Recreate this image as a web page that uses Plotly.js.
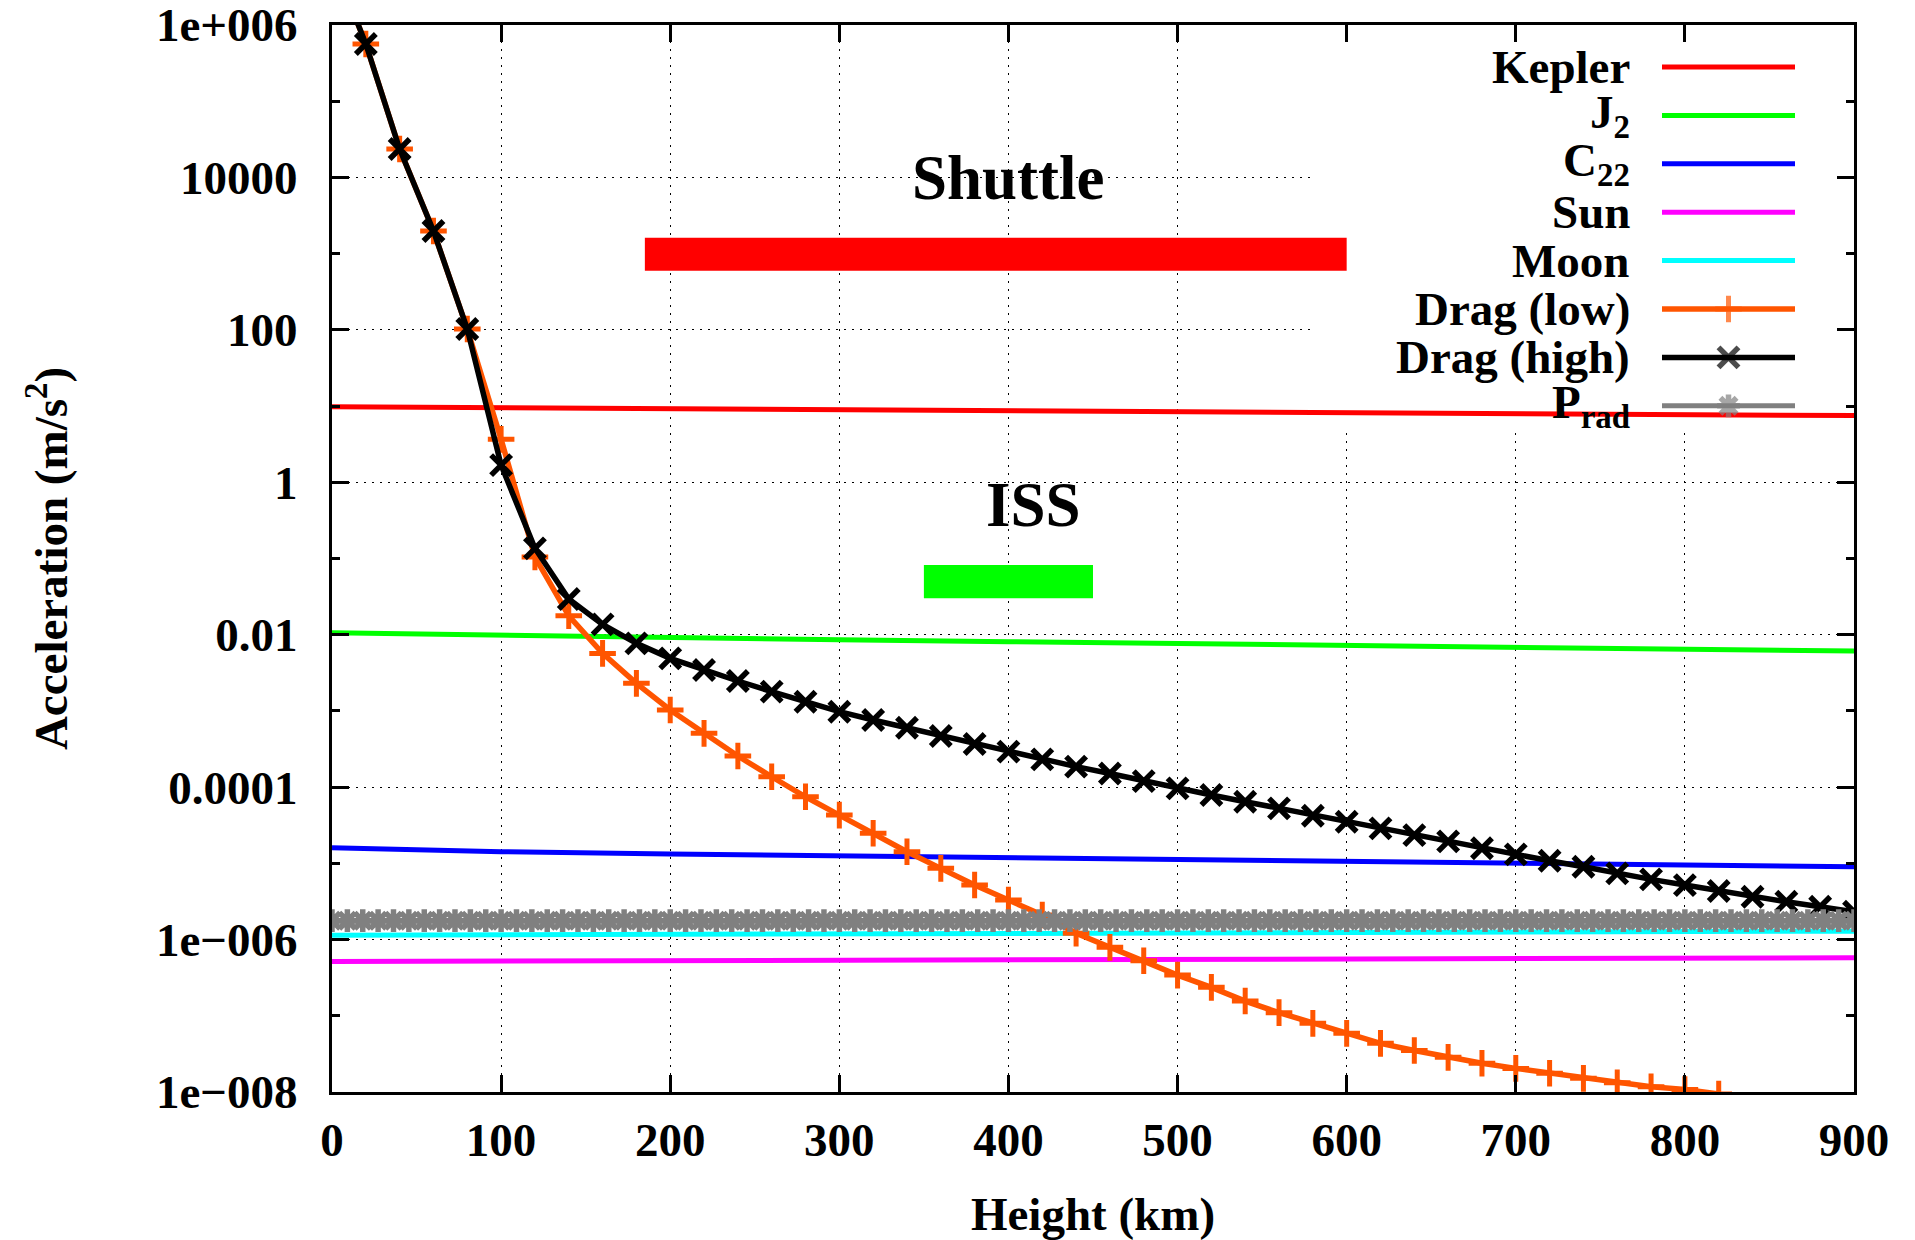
<!DOCTYPE html>
<html>
<head>
<meta charset="utf-8">
<script src="https://cdn.plot.ly/plotly-3.0.1.min.js"></script>
<style>
html,body{margin:0;padding:0;background:#ffffff;}
#chart{width:1915px;height:1240px;}
</style>
</head>
<body>
<div id="chart"></div>
<script>
// ---------------- DATA ----------------
const funcHeights = [0, 100, 200, 300, 400, 500, 600, 700, 800, 900];
const kepler = [9.8, 9.5, 9.2, 8.9, 8.7, 8.4, 8.2, 8.0, 7.7, 7.5];
const j2     = [0.0106, 0.0098, 0.0092, 0.0086, 0.0081, 0.0076, 0.0072, 0.0068, 0.0064, 0.0061];
const c22    = [1.60e-5, 1.42e-5, 1.33e-5, 1.25e-5, 1.18e-5, 1.12e-5, 1.06e-5, 1.01e-5, 0.95e-5, 0.90e-5];
const sun    = [5.15e-7, 5.22e-7, 5.29e-7, 5.36e-7, 5.43e-7, 5.50e-7, 5.57e-7, 5.64e-7, 5.71e-7, 5.78e-7];
const moon   = [1.14e-6, 1.16e-6, 1.18e-6, 1.19e-6, 1.21e-6, 1.23e-6, 1.24e-6, 1.26e-6, 1.27e-6, 1.29e-6];

const dragLowHeights = [0, 20, 40, 60, 80, 100, 120, 140, 160, 180, 200, 220, 240, 260, 280, 300, 320, 340, 360, 380,
  400, 420, 440, 460, 480, 500, 520, 540, 560, 580, 600, 620, 640, 660, 680, 700, 720, 740, 760, 780, 800, 820];
const dragLow = [7.5e6, 5.64e5, 2.36e4, 1.98e3, 102.6, 3.66, 0.105, 0.0177, 0.00569, 0.0023, 0.00103, 5.08e-4, 2.56e-4,
  1.37e-4, 7.48e-5, 4.30e-5, 2.48e-5, 1.42e-5, 8.6e-6, 5.19e-6, 3.30e-6, 2.10e-6, 1.21e-6, 7.9e-7, 5.27e-7, 3.42e-7,
  2.36e-7, 1.56e-7, 1.10e-7, 7.96e-8, 5.88e-8, 4.35e-8, 3.5e-8, 2.85e-8, 2.38e-8, 2.04e-8, 1.76e-8, 1.51e-8, 1.32e-8,
  1.17e-8, 1.08e-8, 9.4e-9];

const dragHighHeights = [0, 20, 40, 60, 80, 100, 120, 140, 160, 180, 200, 220, 240, 260, 280, 300, 320, 340, 360, 380,
  400, 420, 440, 460, 480, 500, 520, 540, 560, 580, 600, 620, 640, 660, 680, 700, 720, 740, 760, 780, 800, 820, 840,
  860, 880, 900];
const dragHigh = [7.5e6, 5.64e5, 2.36e4, 1.98e3, 102.6, 1.68, 0.136, 0.0294, 0.01368, 0.00771, 0.0049, 0.00344,
  0.00247, 0.00179, 0.00132, 9.77e-4, 7.60e-4, 6.01e-4, 4.68e-4, 3.68e-4, 2.92e-4, 2.31e-4, 1.86e-4, 1.51e-4,
  1.20e-4, 9.64e-5, 7.88e-5, 6.44e-5, 5.27e-5, 4.22e-5, 3.52e-5, 2.88e-5, 2.35e-5, 1.94e-5, 1.58e-5, 1.31e-5,
  1.08e-5, 9.03e-6, 7.40e-6, 6.17e-6, 5.19e-6, 4.34e-6, 3.65e-6, 3.13e-6, 2.70e-6, 2.32e-6];

const pradHeights = [0, 9.09, 18.18, 27.27, 36.36, 45.45, 54.55, 63.64, 72.73, 81.82, 90.91, 100, 109.09, 118.18,
  127.27, 136.36, 145.45, 154.55, 163.64, 172.73, 181.82, 190.91, 200, 209.09, 218.18, 227.27, 236.36, 245.45, 254.55,
  263.64, 272.73, 281.82, 290.91, 300, 309.09, 318.18, 327.27, 336.36, 345.45, 354.55, 363.64, 372.73, 381.82, 390.91,
  400, 409.09, 418.18, 427.27, 436.36, 445.45, 454.55, 463.64, 472.73, 481.82, 490.91, 500, 509.09, 518.18, 527.27,
  536.36, 545.45, 554.55, 563.64, 572.73, 581.82, 590.91, 600, 609.09, 618.18, 627.27, 636.36, 645.45, 654.55, 663.64,
  672.73, 681.82, 690.91, 700, 709.09, 718.18, 727.27, 736.36, 745.45, 754.55, 763.64, 772.73, 781.82, 790.91, 800,
  809.09, 818.18, 827.27, 836.36, 845.45, 854.55, 863.64, 872.73, 881.82, 890.91, 900];
const prad = [1.77e-6, 1.77e-6, 1.77e-6, 1.77e-6, 1.77e-6, 1.77e-6, 1.77e-6, 1.77e-6, 1.77e-6, 1.77e-6,
  1.77e-6, 1.77e-6, 1.77e-6, 1.77e-6, 1.77e-6, 1.77e-6, 1.77e-6, 1.77e-6, 1.77e-6, 1.77e-6,
  1.77e-6, 1.77e-6, 1.77e-6, 1.77e-6, 1.77e-6, 1.77e-6, 1.77e-6, 1.77e-6, 1.77e-6, 1.77e-6,
  1.77e-6, 1.77e-6, 1.77e-6, 1.77e-6, 1.77e-6, 1.77e-6, 1.77e-6, 1.77e-6, 1.77e-6, 1.77e-6,
  1.77e-6, 1.77e-6, 1.77e-6, 1.77e-6, 1.77e-6, 1.77e-6, 1.77e-6, 1.77e-6, 1.77e-6, 1.77e-6,
  1.77e-6, 1.77e-6, 1.77e-6, 1.77e-6, 1.77e-6, 1.77e-6, 1.77e-6, 1.77e-6, 1.77e-6, 1.77e-6,
  1.77e-6, 1.77e-6, 1.77e-6, 1.77e-6, 1.77e-6, 1.77e-6, 1.77e-6, 1.77e-6, 1.77e-6, 1.77e-6,
  1.77e-6, 1.77e-6, 1.77e-6, 1.77e-6, 1.77e-6, 1.77e-6, 1.77e-6, 1.77e-6, 1.77e-6, 1.77e-6,
  1.77e-6, 1.77e-6, 1.77e-6, 1.77e-6, 1.77e-6, 1.77e-6, 1.77e-6, 1.77e-6, 1.77e-6, 1.77e-6,
  1.77e-6, 1.77e-6, 1.77e-6, 1.77e-6, 1.77e-6, 1.77e-6, 1.77e-6, 1.77e-6, 1.77e-6, 1.77e-6];

const seriesNames = ['Kepler', 'J<sub>2</sub>', 'C<sub>22</sub>', 'Sun', 'Moon', 'Drag (low)', 'Drag (high)', 'P<sub>rad</sub>'];

const xTickVals = [0, 100, 200, 300, 400, 500, 600, 700, 800, 900];
const yTickVals = [1e6, 1e4, 100, 1, 0.01, 1e-4, 1e-6, 1e-8];
const yTickText = ['1e+006', '10000', '100', '1', '0.01', '0.0001', '1e\u2212006', '1e\u2212008'];
const yMinorVals = [1e5, 1e3, 10, 0.1, 1e-3, 1e-5, 1e-7];

const missionNames = ['Shuttle', 'ISS'];
const missionSpans = [[185, 600], [350, 450]];

// ---------------- STYLE ----------------
const FONT = 'Liberation Serif, Times New Roman, serif';
const FS = 47;
const styles = [
  {color: '#ff0000', width: 5, symbol: null},
  {color: '#00ff00', width: 5, symbol: null},
  {color: '#0000ff', width: 5, symbol: null},
  {color: '#ff00ff', width: 5, symbol: null},
  {color: '#00ffff', width: 5, symbol: null},
  {color: '#ff5500', width: 5.5, symbol: 'cross-thin-open', size: 19, mlw: 5},
  {color: '#000000', width: 5.5, symbol: 'x-thin-open', size: 20, mlw: 5.5},
  {color: '#808080', width: 5, symbol: 'asterisk-open', size: 19, mlw: 5.5}
];
const seriesX = [funcHeights, funcHeights, funcHeights, funcHeights, funcHeights, dragLowHeights, dragHighHeights, pradHeights];
const seriesY = [kepler, j2, c22, sun, moon, dragLow, dragHigh, prad];

// plot area in pixels
const PL = 332, PR = 1854, PT = 25, PB = 1092;
const px2fx = p => (p - PL) / (PR - PL);
const py2fy = p => (PB - p) / (PB - PT);

const traces = [];

// mission bars (filled rectangles in data space)
const missionBarY = [[597, 1618], [0.030, 0.082]];
const missionColors = ['#ff0000', '#00ff00'];
missionSpans.forEach((sp, i) => {
  const yb = missionBarY[i];
  traces.push({
    type: 'scatter', mode: 'lines', name: missionNames[i], showlegend: false, hoverinfo: 'name',
    x: [sp[0], sp[1], sp[1], sp[0], sp[0]], y: [yb[0], yb[0], yb[1], yb[1], yb[0]],
    fill: 'toself', fillcolor: missionColors[i], line: {width: 0, color: missionColors[i]}
  });
});

seriesNames.forEach((name, i) => {
  const s = styles[i];
  const t = {
    type: 'scatter', x: seriesX[i], y: seriesY[i], name: name, showlegend: false,
    mode: s.symbol ? 'lines+markers' : 'lines',
    line: {color: s.color, width: s.width},
    hoverinfo: 'x+y+name'
  };
  if (s.symbol) {
    t.marker = {symbol: s.symbol, size: s.size, color: s.color, line: {color: s.color, width: s.mlw}};
  }
  traces.push(t);
});

// manual gnuplot-style key (text left, sample right) on an overlay axis spanning [0,1]
const keyTop = 67, keyStep = 48.4;
const sampleX0 = px2fx(1662), sampleX1 = px2fx(1795), sampleXm = (sampleX0 + sampleX1) / 2;
const keyTextX = px2fx(1632);
const annotations = [];
seriesNames.forEach((name, i) => {
  const s = styles[i];
  const fy = py2fy(keyTop + i * keyStep);
  const t = {
    type: 'scatter', xaxis: 'x2', yaxis: 'y2', showlegend: false, hoverinfo: 'skip',
    x: [sampleX0, sampleXm, sampleX1], y: [fy, fy, fy],
    mode: s.symbol ? 'lines+markers' : 'lines',
    line: {color: s.color, width: s.width}
  };
  if (s.symbol) {
    t.marker = {symbol: s.symbol, size: [0, s.size, 0], color: s.color, line: {color: s.color, width: s.mlw}};
  }
  traces.push(t);
  annotations.push({
    xref: 'paper', yref: 'paper', x: keyTextX, y: fy, xanchor: 'right', yanchor: 'middle',
    text: name, showarrow: false, font: {family: FONT, size: FS, color: '#000', weight: 'bold'}
  });
});

// mission labels
const missionLabelX = [400, 415];
const missionLabelY = [9800, 0.5];
missionNames.forEach((n, i) => {
  annotations.push({
    xref: 'x', yref: 'y', x: missionLabelX[i], y: Math.log10(missionLabelY[i]),
    xanchor: 'center', yanchor: 'middle', text: n, showarrow: false,
    font: {family: FONT, size: 63, color: '#000', weight: 'bold'}
  });
});

// opaque key box hiding the grid (traces still drawn over it)
const shapes = [
  {type: 'rect', xref: 'x', yref: 'y', x0: 579.5, x1: 900, y0: 4.43, y1: 1e6,
   fillcolor: '#ffffff', line: {width: 0}, layer: 'between'}
];

const axisCommon = {
  ticks: 'inside', ticklen: 17, tickwidth: 3, tickcolor: '#000',
  showline: true, linewidth: 3, linecolor: '#000', mirror: 'allticks',
  showgrid: true, gridcolor: '#000', gridwidth: 1, griddash: '2px,6px',
  zeroline: false, automargin: false, ticklabeloverflow: 'allow',
  tickfont: {family: FONT, size: FS, color: '#000', weight: 'bold'}
};

const layout = {
  width: 1915, height: 1240,
  margin: {l: PL, r: 1915 - PR, t: PT, b: 1240 - PB, pad: 0},
  paper_bgcolor: '#ffffff', plot_bgcolor: '#ffffff',
  font: {family: FONT, size: FS, color: '#000', weight: 'bold'},
  showlegend: false,
  xaxis: Object.assign({}, axisCommon, {
    range: [0, 900], tickmode: 'array', tickvals: xTickVals, ticklabelstandoff: 5,
    title: {text: 'Height (km)', font: {family: FONT, size: FS, color: '#000', weight: 'bold'}, standoff: 48}
  }),
  yaxis: Object.assign({}, axisCommon, {
    type: 'log', range: [-8, 6.0001], tickmode: 'array', tickvals: yTickVals, ticktext: yTickText,
    ticklabelstandoff: 22,
    minor: {tickmode: 'array', tickvals: yMinorVals, ticks: 'inside', ticklen: 8, tickwidth: 3, tickcolor: '#000', showgrid: false},
    title: {text: 'Acceleration (m/s<sup>2</sup>)', font: {family: FONT, size: FS, color: '#000', weight: 'bold'}, standoff: 74}
  }),
  xaxis2: {overlaying: 'x', anchor: 'y2', range: [0, 1], visible: false, fixedrange: true},
  yaxis2: {overlaying: 'y', anchor: 'x2', range: [0, 1], visible: false, fixedrange: true},
  annotations: annotations,
  shapes: shapes
};

Plotly.newPlot('chart', traces, layout, {displayModeBar: false, staticPlot: true});
</script>
</body>
</html>
